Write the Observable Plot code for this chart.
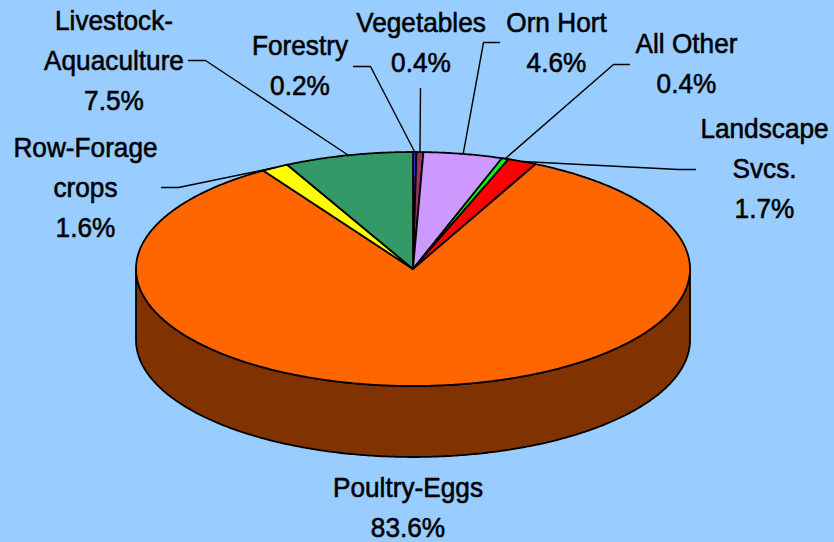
<!DOCTYPE html>
<html><head><meta charset="utf-8">
<script src="https://cdn.jsdelivr.net/npm/d3@7"></script>
<script src="https://cdn.jsdelivr.net/npm/@observablehq/plot@0.6"></script>
<style>html,body{margin:0;padding:0;background:#99CCFF;} #chart svg{display:block}</style>
</head><body><div id="chart"></div>
<script>
// ---- data (clockwise from 12 o'clock) ----
const categories = ["Forestry","Vegetables","Orn Hort","All Other","Landscape Svcs.","Poultry-Eggs","Row-Forage crops","Livestock-Aquaculture"];
const shares = [0.2, 0.4, 4.6, 0.4, 1.7, 83.6, 1.6, 7.5];
const labelNames = ["Forestry","Vegetables","Orn Hort","All Other","Landscape\nSvcs.","Poultry-Eggs","Row-Forage\ncrops","Livestock-\nAquaculture"];
const sliceColors = ["#3333CC","#993366","#CC99FF","#00FF00","#FF0000","#FF6600","#FFFF00","#339966"];

// ---- layout ----
const W = 834, H = 542;
const CX = 412.5, CY = 268.5, RX = 277, RY = 117, DEPTH = 71;
const FONT = "'Liberation Sans',Arial,sans-serif";
const FS = 28.5, LH = 1.4, SQUEEZE = 0.92;
// label block: x center, y = baseline of first line
const labelPos = {
  "Forestry": [299.5, 55],
  "Vegetables": [420.5, 32],
  "Orn Hort": [556, 32],
  "All Other": [686, 53],
  "Landscape Svcs.": [764, 138],
  "Poultry-Eggs": [407.5, 497],
  "Row-Forage crops": [85, 157],
  "Livestock-Aquaculture": [113.5, 29.5]
};
// leader: start point and elbow x (end point is on the slice rim)
const leaderPos = {
  "Forestry": [353, 66, 370],
  "Vegetables": [420, 88, 420],
  "Orn Hort": [499, 42, 483],
  "All Other": [629, 64, 613],
  "Landscape Svcs.": [695, 169, 678],
  "Row-Forage crops": [161, 187, 178],
  "Livestock-Aquaculture": [188, 60, 205]
};

const total = d3.sum(shares);
let acc = 0;
const slices = categories.map((c, i) => {
  const a0 = acc / total * 360; acc += shares[i];
  const a1 = acc / total * 360;
  return {name: c, value: shares[i], color: sliceColors[i], a0, a1};
});
const rad = a => a * Math.PI / 180;
const pt = (a, dy = 0) => ({x: CX + RX * Math.sin(rad(a)), y: CY - RY * Math.cos(rad(a)) + dy});
function arc(a0, a1, dy = 0) {
  const n = Math.max(2, Math.ceil(Math.abs(a1 - a0) / 0.5));
  return d3.range(n + 1).map(k => pt(a0 + (a1 - a0) * k / n, dy));
}

const topPts = [], sidePts = [], leaderPts = [], labelData = [];
for (const s of slices) {
  topPts.push({name: s.name, fill: s.color, x: CX, y: CY});
  for (const p of arc(s.a0, s.a1)) topPts.push({name: s.name, fill: s.color, ...p});
  const s0 = Math.max(s.a0, 90), s1 = Math.min(s.a1, 270);
  if (s1 > s0) {
    const c = d3.rgb(s.color);
    const dark = d3.rgb(c.r / 2, c.g / 2, c.b / 2).formatHex();
    for (const p of arc(s0, s1)) sidePts.push({name: s.name, fill: dark, ...p});
    for (const p of arc(s1, s0, DEPTH)) sidePts.push({name: s.name, fill: dark, ...p});
  }
  const lp = leaderPos[s.name];
  if (lp) {
    const end = pt((s.a0 + s.a1) / 2);
    leaderPts.push({name: s.name, x: lp[0], y: lp[1]});
    leaderPts.push({name: s.name, x: lp[2], y: lp[1]});
    leaderPts.push({name: s.name, x: end.x, y: end.y});
  }
  const i = categories.indexOf(s.name);
  const [lx, lb] = labelPos[s.name];
  labelData.push({x: lx, y: lb - 0.71 * LH * FS, text: labelNames[i] + "\n" + s.value.toFixed(1) + "%"});
}

const chart = Plot.plot({
  width: W, height: H, margin: 0,
  x: {domain: [0, W], range: [0, W], axis: null},
  y: {domain: [0, H], range: [0, H], axis: null},
  color: {type: "identity"},
  style: {background: "#99CCFF", overflow: "visible"},
  marks: [
    Plot.line(sidePts, {x: "x", y: "y", z: "name", fill: "fill", stroke: "#000", strokeWidth: 1.8, curve: "linear-closed", strokeLinejoin: "round"}),
    Plot.line(topPts, {x: "x", y: "y", z: "name", fill: "fill", stroke: "#000", strokeWidth: 1.8, curve: "linear-closed", strokeLinejoin: "round"}),
    Plot.line(leaderPts, {x: "x", y: "y", z: "name", stroke: "#000", strokeWidth: 1.4}),
    Plot.text(labelData, {x: "x", y: "y", text: "text", lineAnchor: "top", lineHeight: LH, fontSize: FS, fontFamily: FONT, fill: "#000", stroke: "#000", strokeWidth: 0.6, textAnchor: "middle"})
  ]
});
// horizontally condense the label glyphs (narrow typeface look)
chart.querySelectorAll('g[aria-label="text"] text').forEach(t => {
  const tr = t.getAttribute("transform") || "";
  t.setAttribute("transform", tr + ` scale(${SQUEEZE},1)`);
});
document.getElementById("chart").append(chart);
</script>
</body></html>
